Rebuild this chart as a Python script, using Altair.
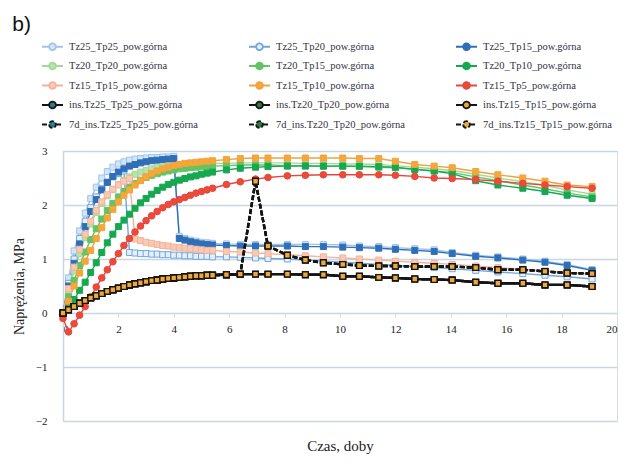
import altair as alt
import pandas as pd

# time axis (days)
T = [0, 0.2, 0.4, 0.6, 0.8, 1.0, 1.2, 1.4, 1.6, 1.8, 2.0, 2.2, 2.4, 2.6, 2.8, 3.0, 3.2, 3.4, 3.6, 3.8,
     4.0, 4.2, 4.4, 4.6, 4.8, 5.0, 5.2, 5.4, 5.9, 6.4, 6.95, 7.4, 8.1, 8.75, 9.4, 10.1, 10.7, 11.4,
     12.0, 12.7, 13.4, 14.05, 14.9, 15.7, 16.6, 17.4, 18.2, 19.1]

tz25_tp25 = [0.0, 0.65, 1.15, 1.52, 1.85, 2.12, 2.33, 2.5, 2.62, 2.7, 2.76, 2.8, 2.83, 2.85, 2.86, 2.87, 2.88, 2.88, 2.89, 2.89,
             2.9, 1.42, 1.38, 1.35, 1.33, 1.31, 1.3, 1.29,
             1.28, 1.27, 1.27, 1.27, 1.27, 1.27, 1.27, 1.26, 1.24, 1.23, 1.21, 1.19, 1.17, 1.12, 1.07, 1.04, 1.0, 0.96, 0.9, 0.8]
tz25_tp20 = [0.0, 0.55, 1.0, 1.38, 1.7, 1.95, 2.15, 2.3, 2.42, 2.52, 2.58, 2.63, 1.12, 1.11, 1.1, 1.1, 1.09, 1.09, 1.08, 1.08,
             1.07, 1.07, 1.06, 1.06, 1.05, 1.05, 1.05, 1.04,
             1.04, 1.03, 1.02, 1.01, 1.0, 0.98, 0.96, 0.94, 0.92, 0.9, 0.88, 0.86, 0.84, 0.82, 0.79, 0.76, 0.73, 0.7, 0.67, 0.63]
tz25_tp15 = [0.0, 0.5, 0.92, 1.28, 1.6, 1.88, 2.1, 2.28, 2.42, 2.53, 2.61, 2.67, 2.72, 2.75, 2.78, 2.8, 2.82, 2.83, 2.84, 2.85,
             2.86, 1.38, 1.35, 1.32, 1.3, 1.28, 1.27, 1.26,
             1.25, 1.24, 1.24, 1.24, 1.24, 1.23, 1.23, 1.22, 1.21, 1.2, 1.18, 1.16, 1.14, 1.1, 1.05, 1.02, 0.98, 0.94, 0.88, 0.79]
tz20_tp20 = [0.0, 0.4, 0.78, 1.1, 1.4, 1.65, 1.86, 2.03, 2.17, 2.29, 2.38, 2.46, 2.52, 2.57, 2.61, 2.64, 2.67, 2.69, 2.71, 2.72,
             2.73, 2.74, 2.75, 2.75, 2.76, 2.76, 2.76, 2.77,
             2.77, 2.78, 2.78, 2.78, 2.78, 2.77, 2.77, 2.76, 2.76, 2.75, 2.73, 2.7, 2.67, 2.64, 2.57, 2.5, 2.43, 2.36, 2.28, 2.2]
tz20_tp15 = [0.0, 0.3, 0.6, 0.88, 1.13, 1.36, 1.56, 1.74, 1.9, 2.03, 2.15, 2.25, 2.33, 2.4, 2.46, 2.51, 2.55, 2.58, 2.61, 2.63,
             2.65, 2.67, 2.68, 2.69, 2.7, 2.71, 2.71, 2.72,
             2.73, 2.74, 2.74, 2.74, 2.73, 2.73, 2.72, 2.72, 2.71, 2.7, 2.69, 2.66, 2.63, 2.6, 2.52, 2.45, 2.37, 2.3, 2.22, 2.15]
tz20_tp10 = [0.0, 0.1, 0.25, 0.42, 0.57, 0.75, 0.93, 1.12, 1.3, 1.46, 1.6, 1.72, 1.83, 1.94, 2.04, 2.12, 2.2, 2.27, 2.33, 2.38,
             2.42, 2.46, 2.49, 2.52, 2.54, 2.57, 2.59, 2.61,
             2.65, 2.68, 2.7, 2.71, 2.72, 2.72, 2.72, 2.72, 2.72, 2.71, 2.7, 2.66, 2.63, 2.58, 2.45, 2.37, 2.31, 2.25, 2.18, 2.12]
tz15_tp15 = [0.0, 0.45, 0.85, 1.18, 1.46, 1.7, 1.9, 2.06, 2.19, 2.29, 2.37, 2.44, 2.49, 1.37, 1.34, 1.31, 1.29, 1.27, 1.25, 1.24,
             1.22, 1.21, 1.2, 1.19, 1.18, 1.17, 1.16, 1.16,
             1.14, 1.13, 1.11, 1.1, 1.08, 1.06, 1.04, 1.02, 1.0, 0.98, 0.96, 0.94, 0.92, 0.9, 0.87, 0.84, 0.81, 0.78, 0.75, 0.72]
tz15_tp10 = [0.0, 0.22, 0.5, 0.74, 0.96, 1.16, 1.38, 1.58, 1.76, 1.92, 2.06, 2.18, 2.28, 2.37, 2.45, 2.52, 2.58, 2.63, 2.67, 2.7,
             2.73, 2.75, 2.77, 2.78, 2.79, 2.8, 2.81, 2.82,
             2.84, 2.86, 2.87, 2.87, 2.87, 2.87, 2.87, 2.87, 2.86, 2.86, 2.81, 2.75, 2.72, 2.69, 2.62, 2.56, 2.5, 2.44, 2.37, 2.34]
tz15_tp5 = [-0.1, -0.35, -0.2, -0.04, 0.12, 0.3, 0.48, 0.65, 0.8, 0.95, 1.1, 1.25, 1.38, 1.5, 1.61, 1.71, 1.8, 1.88, 1.95, 2.01,
            2.06, 2.1, 2.14, 2.18, 2.22, 2.25, 2.28, 2.31,
            2.38, 2.43, 2.48, 2.51, 2.54, 2.55, 2.56, 2.56, 2.56, 2.56, 2.55, 2.53, 2.5, 2.49, 2.47, 2.44, 2.4, 2.37, 2.34, 2.31]
ins_values = [0.0, 0.06, 0.12, 0.18, 0.23, 0.28, 0.32, 0.36, 0.4, 0.43, 0.46, 0.49, 0.52, 0.54, 0.56, 0.58, 0.6, 0.61, 0.63, 0.64,
              0.65, 0.66, 0.67, 0.68, 0.69, 0.69, 0.7, 0.7,
              0.71, 0.72, 0.72, 0.72, 0.72, 0.71, 0.71, 0.68, 0.68, 0.66, 0.65, 0.63, 0.62, 0.61, 0.57, 0.55, 0.55, 0.52, 0.52, 0.49]
ins7d_values = [0.0, 0.06, 0.12, 0.18, 0.23, 0.28, 0.32, 0.36, 0.4, 0.43, 0.46, 0.49, 0.52, 0.54, 0.56, 0.58, 0.6, 0.61, 0.63, 0.64,
                0.65, 0.66, 0.67, 0.68, 0.69, 0.69, 0.7, 0.7,
                0.71, 0.72, 2.44, 1.24, 1.07, 0.98, 0.93, 0.9, 0.88, 0.87, 0.87, 0.86, 0.86, 0.86, 0.84, 0.8, 0.8, 0.77, 0.74, 0.73]

SERIES = [
    "Tz25_Tp25_pow.górna", "Tz25_Tp20_pow.górna", "Tz25_Tp15_pow.górna",
    "Tz20_Tp20_pow.górna", "Tz20_Tp15_pow.górna", "Tz20_Tp10_pow.górna",
    "Tz15_Tp15_pow.górna", "Tz15_Tp10_pow.górna", "Tz15_Tp5_pow.górna",
    "ins.Tz25_Tp25_pow.górna", "ins.Tz20_Tp20_pow.górna", "ins.Tz15_Tp15_pow.górna",
    "7d_ins.Tz25_Tp25_pow.górna", "7d_ins.Tz20_Tp20_pow.górna", "7d_ins.Tz15_Tp15_pow.górna",
]
VALUES = [tz25_tp25, tz25_tp20, tz25_tp15, tz20_tp20, tz20_tp15, tz20_tp10,
          tz15_tp15, tz15_tp10, tz15_tp5,
          ins_values, ins_values, ins_values, ins7d_values, ins7d_values, ins7d_values]
KIND = ["sq", "sq", "sq", "sq", "sq", "sq", "sq", "sq", "dot",
        "black", "black", "black", "black", "black", "black"]
LINE_COLORS = ["#9ec4ec", "#6fa6de", "#2f6fb8", "#a6d79a", "#62c462", "#16a850",
               "#f3b29a", "#f2a23c", "#e8463a",
               "#141414", "#141414", "#141414", "#141414", "#141414", "#141414"]
MARKER_FILLS = ["#d3e5f8", "#e6f0fa", "#2f6fb8", "#b9e2ab", "#62c462", "#16a850",
                "#f8c9b4", "#f5a83a", "#ec4a3c",
                "#2a7d8e", "#2e7a3c", "#f0a83a", "#2a7d8e", "#2e7a3c", "#f0a83a"]
DASHES = [[1, 0]] * 12 + [[5, 2]] * 3

rows = []
for name, kind, vals in zip(SERIES, KIND, VALUES):
    for t, v in zip(T, vals):
        rows.append({"t": t, "v": v, "series": name, "kind": kind})
df = pd.DataFrame(rows)

LEGEND_PATH = ("M-1,0L-0.34,0M0.34,0L1,0M-0.32,0A0.32,0.32,0,1,0,0.32,0"
               "A0.32,0.32,0,1,0,-0.32,0Z")
legend_def = alt.Legend(
    title=None, orient="none", legendX=-22, legendY=-116, columns=3, direction="horizontal",
    columnPadding=47, rowPadding=0.5, symbolType=LEGEND_PATH, symbolSize=441,
    symbolStrokeWidth=1.8, labelFont="Liberation Serif", labelFontSize=10.5,
    labelColor="#333344", labelLimit=300, symbolOffset=0, labelOffset=5,
)

x_enc = alt.X("t:Q", scale=alt.Scale(domain=[0, 20], nice=False),
              axis=alt.Axis(values=list(range(0, 21, 2)), title="Czas, doby", offset=-108,
                            grid=False, domain=False, ticks=True, tickSize=4, tickColor="#d3dce6",
                            labelPadding=6, titlePadding=104, labelFont="Liberation Serif",
                            labelFontSize=11, labelColor="#222", titleFont="Liberation Serif",
                            titleFontSize=15, titleFontWeight="normal", titleColor="#222"))
y_enc = alt.Y("v:Q", scale=alt.Scale(domain=[-2, 3], nice=False),
              axis=alt.Axis(values=[-2, -1, 0, 1, 2, 3], title="Naprężenia, MPa", grid=True,
                            gridColor="#c9d6e3", gridWidth=1.5, domain=True, domainColor="#c9d6e3",
                            domainWidth=1.5, ticks=False, labelPadding=16, titlePadding=9,
                            labelFont="Liberation Serif", labelFontSize=11, labelColor="#222",
                            titleFont="Liberation Serif", titleFontSize=14,
                            titleFontWeight="normal", titleColor="#222"))

stroke_enc = alt.Stroke("series:N", scale=alt.Scale(domain=SERIES, range=LINE_COLORS), legend=legend_def)
fill_enc = alt.Fill("series:N", scale=alt.Scale(domain=SERIES, range=MARKER_FILLS), legend=legend_def)
dash_enc = alt.StrokeDash("series:N", scale=alt.Scale(domain=SERIES, range=DASHES), legend=legend_def)

base = alt.Chart(df).encode(x=x_enc, y=y_enc)

lines_col = base.transform_filter("datum.kind != 'black'").mark_line(strokeWidth=1.4).encode(stroke=stroke_enc)
pts_sq = base.transform_filter("datum.kind == 'sq'").mark_point(
    shape="square", filled=True, size=36, strokeWidth=1, opacity=1).encode(fill=fill_enc, stroke=stroke_enc)
pts_dot = base.transform_filter("datum.kind == 'dot'").mark_point(
    shape="circle", filled=True, size=44, strokeWidth=1, opacity=1).encode(fill=fill_enc, stroke=stroke_enc)
lines_blk = base.transform_filter("datum.kind == 'black'").mark_line(strokeWidth=2.4).encode(
    stroke=stroke_enc, strokeDash=dash_enc)
pts_blk = base.transform_filter("datum.kind == 'black'").mark_point(
    shape="square", filled=True, size=32, strokeWidth=1.3, opacity=1).encode(fill=fill_enc, stroke=stroke_enc)

chart = alt.layer(lines_col, pts_sq, pts_dot, lines_blk, pts_blk).properties(
    width=554, height=270,
    autosize=alt.AutoSizeParams(type="none"),
    padding={"left": 63, "top": 151, "right": 9, "bottom": 50},
    title=alt.TitleParams("b)", anchor="start", font="Liberation Sans", fontSize=21,
                          fontWeight="normal", color="#111", dx=0, dy=4),
).configure_view(stroke=None).configure(background="white")

chart.save("out.html", embed_options={"renderer": "svg", "actions": False})
